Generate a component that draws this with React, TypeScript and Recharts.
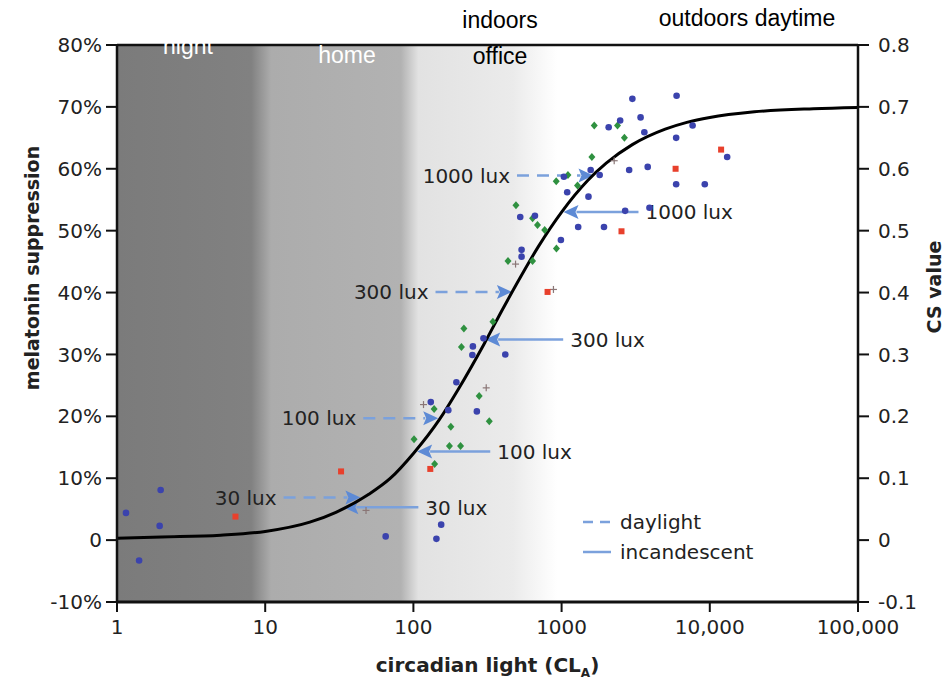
import React from 'react';
import { ComposedChart, Line, Scatter, XAxis, YAxis, ReferenceArea, ReferenceLine, Legend } from 'recharts';

// ---- axis ticks ----
const xTicks = [1, 10, 100, 1000, 10000, 100000];
const xTickLabels = ['1', '10', '100', '1000', '10,000', '100,000'];
const yTicks = [-10, 0, 10, 20, 30, 40, 50, 60, 70, 80];
const yLeftLabels = ['-10%', '0', '10%', '20%', '30%', '40%', '50%', '60%', '70%', '80%'];
const yRightLabels = ['-0.1', '0', '0.1', '0.2', '0.3', '0.4', '0.5', '0.6', '0.7', '0.8'];

// ---- model curve ----
const curveLux = [1, 2, 5, 10, 20, 30, 50, 70, 100, 150, 200, 300, 400, 500, 700, 1000, 1500, 2000, 3000, 5000, 7000, 10000, 20000, 50000, 100000];
const curvePct = [0.3, 0.5, 0.8, 1.4, 2.9, 4.5, 7.4, 10.0, 14.0, 19.5, 24.3, 31.7, 37.3, 41.5, 47.5, 53.0, 58.1, 60.9, 63.9, 66.4, 67.5, 68.3, 69.2, 69.7, 69.9];

// ---- measured points ----
const blueLux = [1.15, 1.97, 1.94, 1.41, 65, 154, 143, 131, 172, 268, 195, 297, 252, 250, 417, 537, 537, 989, 1294, 1036, 1091, 1518, 1571, 1807, 2857, 3811, 5929, 9250, 2684, 3917, 1932, 526, 661, 3003, 5970, 2078, 2484, 3412, 3617, 5929, 7656, 13100];
const bluePct = [4.4, 8.1, 2.3, -3.3, 0.6, 2.5, 0.2, 22.3, 21.0, 20.8, 25.5, 32.6, 31.3, 29.9, 30.0, 46.9, 45.8, 48.5, 50.6, 58.7, 56.2, 55.5, 59.8, 59.0, 59.8, 60.3, 57.5, 57.5, 53.2, 53.7, 50.6, 52.2, 52.4, 71.3, 71.8, 66.7, 67.8, 68.3, 65.9, 65.0, 67.0, 61.9];

const greenLux = [138, 101, 179, 175, 208, 139, 278, 325, 219, 211, 344, 435, 637, 923, 688, 769, 492, 637, 920, 1103, 1600, 1660, 2384, 2654, 1280];
const greenPct = [21.2, 16.3, 18.3, 15.2, 15.2, 12.3, 23.3, 19.2, 34.2, 31.2, 35.3, 45.1, 45.1, 47.1, 50.9, 50.1, 54.1, 52.0, 58.0, 59.0, 61.9, 67.0, 67.0, 65.0, 57.3];

const redLux = [6.3, 32.5, 130, 804, 2536, 5877, 11920];
const redPct = [3.8, 11.1, 11.5, 40.1, 49.9, 60.0, 63.1];

const plusLux = [117, 47.9, 310, 489, 881, 2264];
const plusPct = [21.9, 4.8, 24.6, 44.6, 40.5, 61.3];

// ---- lux arrows ----
const arrowLabels = ['30 lux', '100 lux', '300 lux', '1000 lux'];
const daylightFrom = [13.3, 45.9, 141, 500];
const daylightTo = [43.9, 147, 462, 1641];
const daylightPct = [6.9, 19.7, 40.1, 58.9];
const incandFrom = [108, 330, 1025, 3302];
const incandTo = [33.7, 106, 305, 1030];
const incandPct = [5.3, 14.3, 32.4, 53.0];

// ---- region labels ----
const regionLabels = ['night', 'home', 'indoors', 'office', 'outdoors daytime'];

const curveData = curveLux.map((x, i) => ({ x, y: curvePct[i] }));
const toPts = (xs: number[], ys: number[]) => xs.map((x, i) => ({ x, y: ys[i] }));
const blueData = toPts(blueLux, bluePct);
const greenData = toPts(greenLux, greenPct);
const redData = toPts(redLux, redPct);
const plusData = toPts(plusLux, plusPct);

const W = 943;
const H = 675;
const FONT = 'DejaVu Sans, Verdana, sans-serif';
const ARROW_LINE = '#7ba1dc';
const ARROW_HEAD = '#5d8ad5';

const makeArrow = (label: string, dashed: boolean) => (props: any) => {
  const { x1, y1, x2, y2 } = props;
  const dir = x2 > x1 ? 1 : -1;
  const head = 15;
  const bx = x2 - dir * head;
  return (
    <g>
      <line x1={x1} y1={y1} x2={bx + dir * 2} y2={y2} stroke={ARROW_LINE} strokeWidth={2.5}
        strokeDasharray={dashed ? '12 8' : undefined} />
      <polygon points={`${x2},${y2} ${bx},${y2 - 7} ${bx + dir * 3},${y2} ${bx},${y2 + 7}`} fill={ARROW_HEAD} />
      <text x={x1 - dir * 7} y={y1} dy="0.36em" textAnchor={dir > 0 ? 'end' : 'start'}
        fontFamily={FONT} fontSize={20} fill="#222">{label}</text>
    </g>
  );
};

const circleShape = (color: string) => (p: any) => <circle cx={p.cx} cy={p.cy} r={3.3} fill={color} />;
const diamondShape = (color: string) => (p: any) => (
  <polygon points={`${p.cx},${p.cy - 4} ${p.cx + 3.5},${p.cy} ${p.cx},${p.cy + 4} ${p.cx - 3.5},${p.cy}`} fill={color} />
);
const squareShape = (color: string) => (p: any) => <rect x={p.cx - 3} y={p.cy - 3} width={6} height={6} fill={color} />;
const plusShape = (color: string) => (p: any) => (
  <g stroke={color} strokeWidth={1.2}>
    <line x1={p.cx - 3.5} y1={p.cy} x2={p.cx + 3.5} y2={p.cy} />
    <line x1={p.cx} y1={p.cy - 3.5} x2={p.cx} y2={p.cy + 3.5} />
  </g>
);

const legendItems = [
  { label: 'daylight', dashed: true },
  { label: 'incandescent', dashed: false },
];

const renderLegend = () => (
  <div style={{ fontFamily: FONT, fontSize: 20, color: '#222' }}>
    {legendItems.map((it) => (
      <div key={it.label} style={{ display: 'flex', alignItems: 'center', height: 30 }}>
        <svg width={28} height={30}>
          <line x1={0} y1={15} x2={28} y2={15} stroke={ARROW_LINE} strokeWidth={2.5}
            strokeDasharray={it.dashed ? '10 7' : undefined} />
        </svg>
        <span style={{ marginLeft: 9, lineHeight: '30px' }}>{it.label}</span>
      </div>
    ))}
  </div>
);

const XLabel = (props: any) => {
  const vb = props.viewBox || {};
  return (
    <text x={vb.x + vb.width / 2} y={vb.y + 70} textAnchor="middle" fontFamily={FONT}
      fontWeight="bold" fontSize={20} fill="#222">
      circadian light (CL<tspan fontSize={12} dy={5}>A</tspan><tspan dy={-5}>)</tspan>
    </text>
  );
};

const YLeftLabel = () => {
  const cx = 24;
  const cy = 260;
  return (
    <text x={cx} y={cy} transform={`rotate(-90 ${cx} ${cy})`} textAnchor="middle" dy="0.36em"
      fontFamily={FONT} fontWeight="bold" fontSize={19} fill="#222">melatonin suppression</text>
  );
};

const YRightLabel = (props: any) => {
  const vb = props.viewBox || {};
  const cx = (vb.x ?? 850) + 76;
  const cy = 279;
  return (
    <text x={cx} y={cy} transform={`rotate(-90 ${cx} ${cy})`} textAnchor="middle" dy="0.36em"
      fontFamily={FONT} fontWeight="bold" fontSize={19} fill="#222">CS value</text>
  );
};

const tickStyle = { fontSize: 20, fill: '#222', fontFamily: FONT };

export default function App() {
  return (
    <div style={{ position: 'relative', width: W, height: H }}>
      <ComposedChart width={W} height={H} data={curveData} margin={{ top: 37, right: 0, bottom: 21, left: 0 }}>
        <defs>
          <linearGradient id="bgGrad" x1="0" y1="0" x2="1" y2="0">
            <stop offset="0" stopColor="#7b7b7b" />
            <stop offset="0.305" stopColor="#818181" />
            <stop offset="0.35" stopColor="#acacac" />
            <stop offset="0.645" stopColor="#b2b2b2" />
            <stop offset="0.685" stopColor="#e2e2e2" />
            <stop offset="0.9" stopColor="#ebebeb" />
            <stop offset="1" stopColor="#ffffff" />
          </linearGradient>
        </defs>
        <XAxis dataKey="x" type="number" scale="log" domain={[1, 100000]} ticks={xTicks} interval={0}
          allowDataOverflow height={60}
          tickFormatter={(v: number) => xTickLabels[xTicks.indexOf(v)] ?? String(v)}
          axisLine={{ stroke: '#111', strokeWidth: 3 }} tickLine={{ stroke: '#111', strokeWidth: 2 }}
          tickSize={10} tickMargin={8} tick={tickStyle} label={<XLabel />} />
        <YAxis yAxisId="left" type="number" domain={[-10, 80]} ticks={yTicks} interval={0} width={109}
          allowDataOverflow
          tickFormatter={(v: number) => yLeftLabels[yTicks.indexOf(v)]}
          axisLine={{ stroke: '#111', strokeWidth: 2.5 }} tickLine={{ stroke: '#111', strokeWidth: 2 }}
          tickSize={11} tickMargin={4} tick={tickStyle} label={<YLeftLabel />} />
        <YAxis yAxisId="right" orientation="right" type="number" domain={[-10, 80]} ticks={yTicks} interval={0} width={93}
          allowDataOverflow
          tickFormatter={(v: number) => yRightLabels[yTicks.indexOf(v)]}
          axisLine={{ stroke: '#111', strokeWidth: 2.5 }} tickLine={{ stroke: '#111', strokeWidth: 2 }}
          tickSize={11} tickMargin={9} tick={tickStyle} label={<YRightLabel />} />
        <ReferenceArea yAxisId="left" x1={1} x2={933} y1={-10} y2={80} fill="url(#bgGrad)" fillOpacity={1} stroke="none" ifOverflow="visible" />
        <ReferenceLine yAxisId="left" y={80} stroke="#111" strokeWidth={2.5} />

        {arrowLabels.map((lab, i) => (
          <ReferenceLine key={'d' + i} yAxisId="left" ifOverflow="visible"
            segment={[{ x: daylightFrom[i], y: daylightPct[i] }, { x: daylightTo[i], y: daylightPct[i] }]}
            shape={makeArrow(lab, true)} />
        ))}
        {arrowLabels.map((lab, i) => (
          <ReferenceLine key={'n' + i} yAxisId="left" ifOverflow="visible"
            segment={[{ x: incandFrom[i], y: incandPct[i] }, { x: incandTo[i], y: incandPct[i] }]}
            shape={makeArrow(lab, false)} />
        ))}

        <Scatter yAxisId="left" data={plusData} dataKey="y" shape={plusShape('#8a7676')} isAnimationActive={false} />
        <Scatter yAxisId="left" data={greenData} dataKey="y" shape={diamondShape('#2f9140')} isAnimationActive={false} />
        <Scatter yAxisId="left" data={blueData} dataKey="y" shape={circleShape('#3b43ad')} isAnimationActive={false} />
        <Scatter yAxisId="left" data={redData} dataKey="y" shape={squareShape('#e8402c')} isAnimationActive={false} />
        {/* the same curve bound to the right (CS) axis, invisible, so that axis is drawn */}
        <Line yAxisId="right" dataKey="y" type="monotone" stroke="none" strokeWidth={0} dot={false}
          activeDot={false} isAnimationActive={false} legendType="none" />
        <Line yAxisId="left" dataKey="y" type="monotone" stroke="#000" strokeWidth={3} dot={false}
          activeDot={false} isAnimationActive={false} />
        <Legend layout="vertical" align="center" verticalAlign="middle" content={renderLegend}
          wrapperStyle={{ left: 575, top: 499, width: 220 }} />
      </ComposedChart>
      <svg width={951} height={90} style={{ position: 'absolute', left: -8, top: -8, pointerEvents: 'none', overflow: 'visible' }}>
        <g fontFamily="Liberation Sans, Arial, sans-serif" fontSize={23} textAnchor="middle">
          <text x={188} y={54} fill="#fff">{regionLabels[0]}</text>
          <text x={347} y={63} fill="#fff">{regionLabels[1]}</text>
          <text x={500} y={28} fill="#000">{regionLabels[2]}</text>
          <text x={500} y={64} fill="#000">{regionLabels[3]}</text>
          <text x={747} y={26} fill="#000">{regionLabels[4]}</text>
        </g>
      </svg>
    </div>
  );
}
